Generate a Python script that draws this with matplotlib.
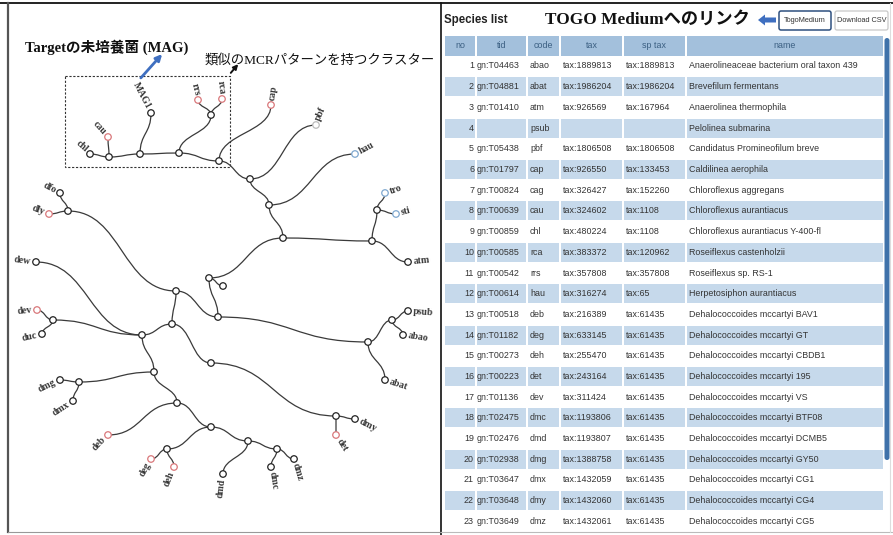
import numpy as np
import matplotlib
matplotlib.use("Agg")
import matplotlib.pyplot as plt
from matplotlib.path import Path
from matplotlib.patches import PathPatch, Rectangle, FancyBboxPatch, FancyArrow

# ---- tree (pixel layout of the network view) ----
node_xy = {
    # leaves
    "chl": (90, 154), "cau": (108, 137), "MAG1": (151, 113), "rrs": (198, 100),
    "rca": (222, 99), "cap": (271, 105), "pbf": (316, 125), "hau": (355, 154),
    "tro": (385, 193), "sti": (396, 214), "atm": (408, 262), "psub": (408, 311),
    "abao": (403, 335), "abat": (385, 380), "dfo": (60, 193), "dly": (49, 214),
    "dew": (36, 262), "dev": (37, 310), "duc": (42, 334), "dmg": (60, 380),
    "dmx": (73, 401), "deb": (108, 435), "deg": (151, 459), "deh": (174, 467),
    "dmd": (223, 474), "dmc": (271, 467), "dmz": (294, 459), "dmy": (355, 419),
    "det": (336, 435), "k1": (223, 286),
    # inner nodes
    "A": (109, 157), "B": (140, 154), "C": (211, 115), "D": (179, 153),
    "E": (219, 161), "F": (250, 179), "G": (269, 205), "H": (283, 238),
    "I": (372, 241), "J": (377, 210), "K": (209, 278), "L": (218, 317),
    "M": (176, 291), "N": (368, 342), "O": (392, 320), "P": (68, 211),
    "Q": (172, 324), "R": (142, 335), "S": (53, 320), "T": (154, 372),
    "U": (211, 363), "V": (79, 382), "W": (177, 403), "X": (211, 427),
    "Y": (167, 449), "Z": (248, 441), "AA": (277, 449), "BB": (336, 416),
}

edges = [
    ("F", "E"), ("F", "pbf"), ("F", "G"), ("E", "D"), ("E", "cap"),
    ("D", "B"), ("D", "C"), ("B", "A"), ("B", "MAG1"), ("A", "chl"), ("A", "cau"),
    ("C", "rrs"), ("C", "rca"), ("G", "hau"), ("G", "H"), ("H", "I"), ("H", "K"),
    ("I", "J"), ("I", "atm"), ("J", "tro"), ("J", "sti"), ("K", "k1"), ("K", "L"),
    ("L", "M"), ("L", "N"), ("N", "O"), ("N", "abat"), ("O", "psub"), ("O", "abao"),
    ("M", "P"), ("M", "Q"), ("P", "dfo"), ("P", "dly"), ("Q", "R"), ("Q", "U"),
    ("R", "dew"), ("R", "S"), ("R", "T"), ("S", "dev"), ("S", "duc"),
    ("T", "V"), ("T", "W"), ("V", "dmg"), ("V", "dmx"), ("W", "deb"), ("W", "X"),
    ("X", "Y"), ("X", "Z"), ("Y", "deg"), ("Y", "deh"), ("Z", "dmd"), ("Z", "AA"),
    ("AA", "dmc"), ("AA", "dmz"), ("U", "BB"), ("BB", "dmy"), ("BB", "det"),
]

red_leaves = ["cau", "rrs", "rca", "cap", "dly", "dev", "deb", "deg", "deh", "det"]
blue_leaves = ["hau", "tro", "sti"]
grey_leaves = ["pbf"]

# ---- species table ----
nos = list(range(1, 24))
tids = ["gn:T04463", "gn:T04881", "gn:T01410", "", "gn:T05438", "gn:T01797",
        "gn:T00824", "gn:T00639", "gn:T00859", "gn:T00585", "gn:T00542",
        "gn:T00614", "gn:T00518", "gn:T01182", "gn:T00273", "gn:T00223",
        "gn:T01136", "gn:T02475", "gn:T02476", "gn:T02938", "gn:T03647",
        "gn:T03648", "gn:T03649"]
codes = ["abao", "abat", "atm", "psub", "pbf", "cap", "cag", "cau", "chl", "rca",
         "rrs", "hau", "deb", "deg", "deh", "det", "dev", "dmc", "dmd", "dmg",
         "dmx", "dmy", "dmz"]
taxes = ["tax:1889813", "tax:1986204", "tax:926569", "", "tax:1806508",
         "tax:926550", "tax:326427", "tax:324602", "tax:480224", "tax:383372",
         "tax:357808", "tax:316274", "tax:216389", "tax:633145", "tax:255470",
         "tax:243164", "tax:311424", "tax:1193806", "tax:1193807", "tax:1388758",
         "tax:1432059", "tax:1432060", "tax:1432061"]
sp_taxes = ["tax:1889813", "tax:1986204", "tax:167964", "", "tax:1806508",
            "tax:133453", "tax:152260", "tax:1108", "tax:1108", "tax:120962",
            "tax:357808", "tax:65"] + ["tax:61435"] * 11
names = ["Anaerolineaceae bacterium oral taxon 439", "Brevefilum fermentans",
         "Anaerolinea thermophila", "Pelolinea submarina",
         "Candidatus Promineofilum breve", "Caldilinea aerophila",
         "Chloroflexus aggregans", "Chloroflexus aurantiacus",
         "Chloroflexus aurantiacus Y-400-fl", "Roseiflexus castenholzii",
         "Roseiflexus sp. RS-1", "Herpetosiphon aurantiacus",
         "Dehalococcoides mccartyi BAV1", "Dehalococcoides mccartyi GT",
         "Dehalococcoides mccartyi CBDB1", "Dehalococcoides mccartyi 195",
         "Dehalococcoides mccartyi VS", "Dehalococcoides mccartyi BTF08",
         "Dehalococcoides mccartyi DCMB5", "Dehalococcoides mccartyi GY50",
         "Dehalococcoides mccartyi CG1", "Dehalococcoides mccartyi CG4",
         "Dehalococcoides mccartyi CG5"]
headers = ["no", "tid", "code", "tax", "sp tax", "name"]

SERIF_JP = ["Liberation Serif", "Noto Sans CJK JP"]
SANS = ["Liberation Sans", "DejaVu Sans"]

fig = plt.figure(figsize=(8.93, 5.35), dpi=100)
ax = fig.add_axes([0, 0, 1, 1])
ax.set_xlim(0, 893)
ax.set_ylim(535, 0)
ax.axis("off")

# frames
ax.plot([0, 893], [3, 3], color="#222222", lw=1.4)
ax.plot([8, 8], [3, 532], color="#555555", lw=1.6)
ax.plot([441, 441], [3, 535], color="#111111", lw=1.2)
ax.plot([8, 441], [532, 532], color="#999999", lw=0.8)
ax.plot([441, 893], [532, 532], color="#bbbbbb", lw=0.8)
ax.plot([890, 890], [3, 532], color="#dddddd", lw=0.8)


def link_path(p, c):
    x0, y0 = p
    x1, y1 = c
    if abs(x1 - x0) >= abs(y1 - y0):
        mx = (x0 + x1) / 2
        pts = [(x0, y0), (mx, y0), (mx, y1), (x1, y1)]
    else:
        my = (y0 + y1) / 2
        pts = [(x0, y0), (x0, my), (x1, my), (x1, y1)]
    return Path(pts, [Path.MOVETO, Path.CURVE4, Path.CURVE4, Path.CURVE4])


for a, b in edges:
    ax.add_patch(PathPatch(link_path(node_xy[a], node_xy[b]), fc="none",
                           ec="#3a3a3a", lw=0.9, zorder=2))

children = {a for a, _ in edges}
leaves = [n for n in node_xy if n not in children]


def node_color(n):
    if n in red_leaves:
        return "#d9777a"
    if n in blue_leaves:
        return "#7fa8d0"
    if n in grey_leaves:
        return "#bbbbbb"
    return "#222222"


xs = [node_xy[n][0] for n in node_xy]
ys = [node_xy[n][1] for n in node_xy]
ax.scatter(xs, ys, s=22, facecolor="white",
           edgecolor=[node_color(n) for n in node_xy], linewidths=0.9, zorder=3)

# leaf labels, oriented away from the middle of the tree
cx, cy = 245, 290
for n in leaves:
    if n == "k1":
        continue
    x, y = node_xy[n]
    dx, dy = x - cx, -(y - cy)
    ang = np.degrees(np.arctan2(dy, dx))
    if dx > 100:
        ang *= 0.55  # right-hand labels sit closer to horizontal
    ux, uy = np.cos(np.radians(ang)), -np.sin(np.radians(ang))
    tx, ty = x + 5 * ux, y + 5 * uy
    if dx >= 0:
        rot, ha = ang, "left"
    else:
        rot, ha = ang + 180, "right"
    ax.text(tx, ty, n, rotation=rot, rotation_mode="anchor", ha=ha, va="center",
            fontsize=7, fontweight="bold", family=["Liberation Serif"],
            color="#333333", zorder=4)

# highlighted cluster
ax.add_patch(Rectangle((65, 76), 165, 91, fill=False, ec="#333333", lw=0.8,
                       ls=(0, (2, 1.5)), zorder=1))
ax.text(25, 47, "Targetの未培養菌 (MAG)", fontsize=10.5, fontweight="bold",
        family=SERIF_JP, ha="left", va="center", color="#111111")
ax.annotate("", xy=(164, 52), xytext=(139, 80),
            arrowprops=dict(arrowstyle="-|>", color="#3f6fc0", lw=2.0,
                            mutation_scale=9))
ax.text(205, 60, "類似のMCRパターンを持つクラスター", fontsize=9.6,
        family=SERIF_JP, ha="left", va="center", color="#111111")
ax.annotate("", xy=(240, 62), xytext=(229, 75),
            arrowprops=dict(arrowstyle="-|>", color="#111111", lw=1.4,
                            mutation_scale=7))

# ---- right panel: species list ----
ax.text(444, 20, "Species list", fontsize=8.3, fontweight="bold", family=SANS,
        ha="left", va="center", color="#222222")
ax.text(545, 20, "TOGO Mediumへのリンク", fontsize=12.4, fontweight="bold",
        family=SERIF_JP, ha="left", va="center", color="#111111")
ax.add_patch(FancyArrow(776, 20, -18, 0, width=5, head_width=11,
                        head_length=7, length_includes_head=True,
                        fc="#3f6fc0", ec="none"))
ax.add_patch(FancyBboxPatch((779, 11), 52, 19, boxstyle="round,pad=0,rounding_size=2",
                            fc="white", ec="#2d4f7f", lw=1.1))
ax.text(805, 20.5, "TogoMedium", fontsize=5.3, family=SANS, ha="center",
        va="center", color="#333333")
ax.add_patch(FancyBboxPatch((835, 11), 53, 19, boxstyle="round,pad=0,rounding_size=2",
                            fc="white", ec="#c8c8c8", lw=0.9))
ax.text(861.5, 20.5, "Download CSV", fontsize=5.3, family=SANS, ha="center",
        va="center", color="#333333")

col_x0 = [445, 477, 528, 561, 624, 687]
col_x1 = [475, 526, 559, 622, 685, 883]
row_h = 20.7
header_top = 36
for x0, x1, h in zip(col_x0, col_x1, headers):
    ax.add_patch(Rectangle((x0, header_top), x1 - x0, 19.5, fc="#a3c0dc",
                           ec="none"))
    ax.text((x0 + x1) / 2, header_top + 10, h, fontsize=6.4, family=SANS,
            ha="center", va="center", color="#3b5f82")

for i, no in enumerate(nos):
    yc = 66 + i * row_h
    if no % 2 == 0:
        for x0, x1 in zip(col_x0, col_x1):
            ax.add_patch(Rectangle((x0, yc - 9.5), x1 - x0, 19, fc="#c6d9eb",
                                   ec="none"))
    kw = dict(fontsize=6.4, family=SANS, va="center", color="#333333")
    ax.text(474, yc, str(no), ha="right", **kw)
    ax.text(477, yc, tids[i], ha="left", **kw)
    ax.text(530, yc, codes[i], ha="left", **kw)
    ax.text(563, yc, taxes[i], ha="left", **kw)
    ax.text(626, yc, sp_taxes[i], ha="left", **kw)
    ax.text(689, yc, names[i], ha="left", **kw)

# scrollbar
ax.add_patch(FancyBboxPatch((884.5, 38), 5, 422, boxstyle="round,pad=0,rounding_size=2.5",
                            fc="#3f72aa", ec="none"))

fig.savefig("out.png", dpi=100)
